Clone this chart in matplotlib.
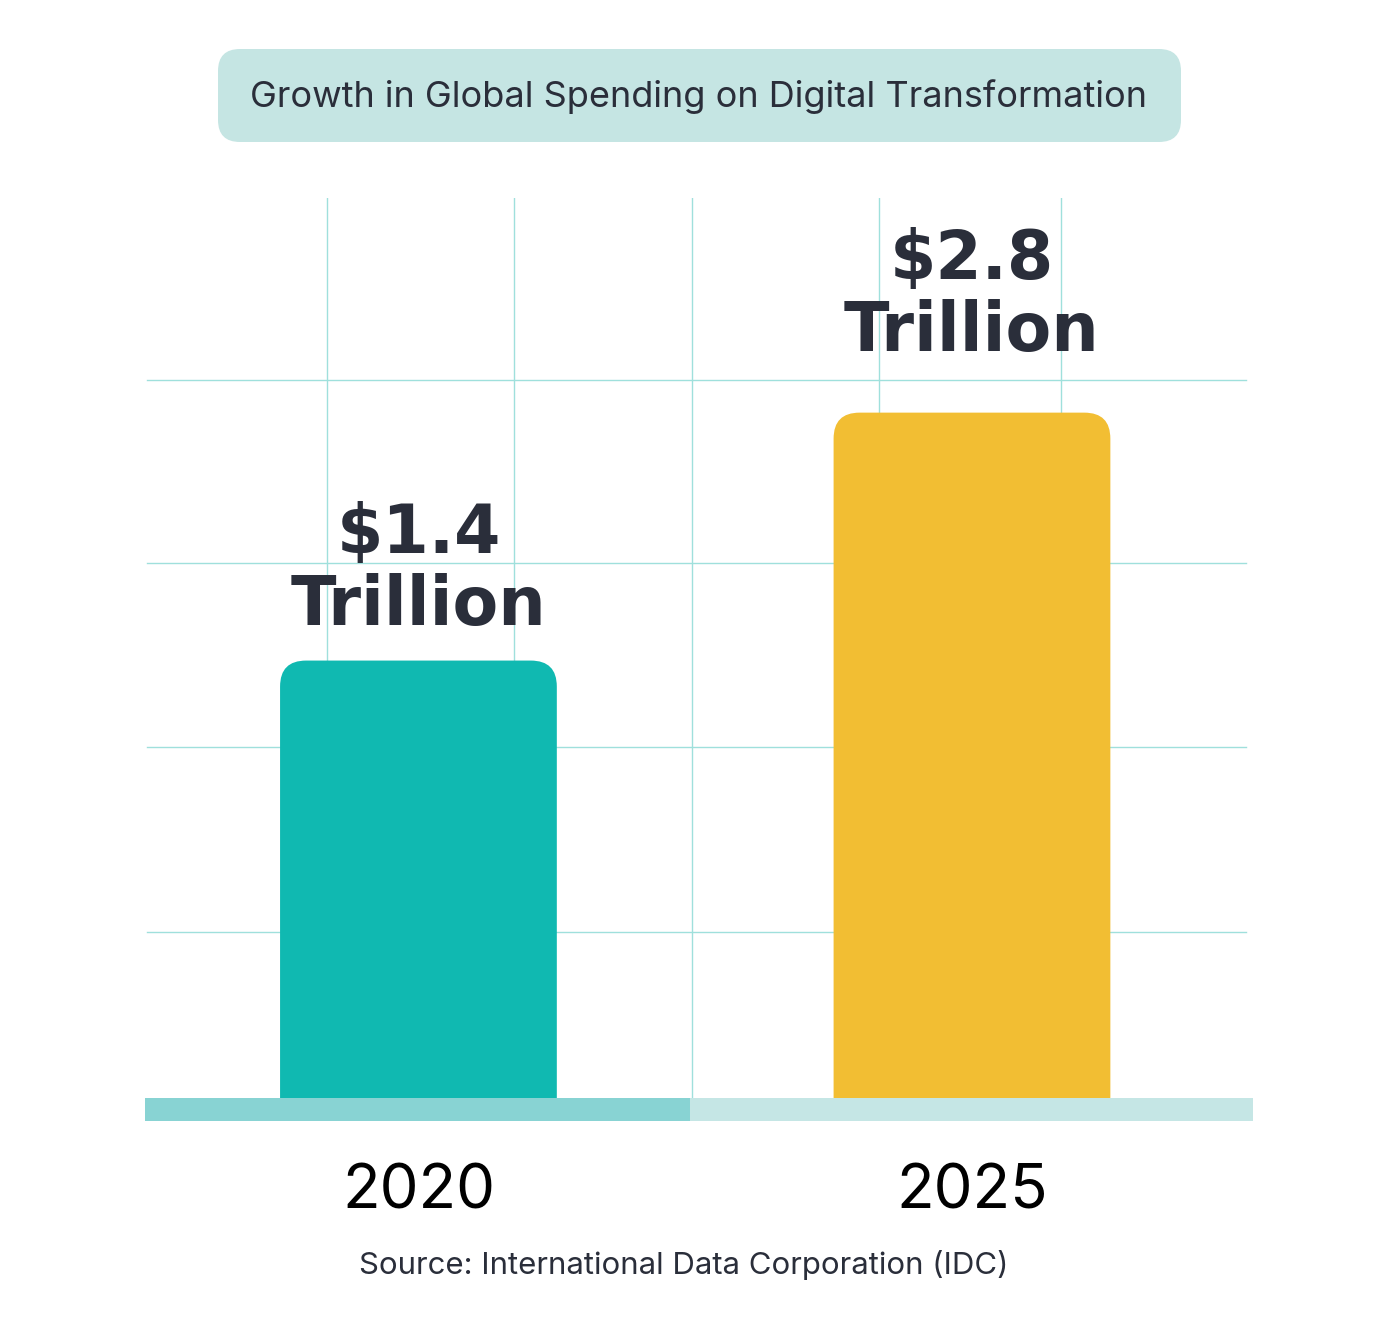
import matplotlib
matplotlib.use('Agg')
import matplotlib.pyplot as plt
from matplotlib.patches import FancyBboxPatch

years = ['2020', '2025']
values = [1.4, 2.8]
value_labels = ['$1.4\nTrillion', '$2.8\nTrillion']
bar_colors = ['#10b9b1', '#f2be33']
title = 'Growth in Global Spending on Digital Transformation'
source = 'Source: International Data Corporation (IDC)'

W, H = 1400, 1320
DARK = '#2a2e3a'
GRID = '#9fe0dc'
label_pad = [0.12, 0.27]  # gap between bar top and its label, per bar

fig = plt.figure(figsize=(W / 100, H / 100), dpi=100)
fig.patch.set_facecolor('white')

# title pill + source (pixel coords)
tax = fig.add_axes([0, 0, 1, 1])
tax.set_xlim(0, W)
tax.set_ylim(H, 0)
tax.axis('off')
tax.add_patch(FancyBboxPatch((218, 49), 963, 93, boxstyle='round,pad=0,rounding_size=22',
                             facecolor='#c5e5e3', edgecolor='none'))
tax.text(699, 97, title, ha='center', va='center', fontsize=26, color=DARK, family='Inter')
tax.text(684, 1265, source, ha='center', va='center', fontsize=22.4, color=DARK, family='Inter')

# plot area: x 145..1253, y 198..1121 px
ax = fig.add_axes([145 / W, 1 - 1121 / H, 1108 / W, 923 / H])
ax.set_xlim(-0.494, 1.5077)
ymin, ymax = -1.2, 4.012
base = -1.07
ax.set_ylim(ymin, ymax)
ax.axis('off')

# grid
for gx in [-0.165, 0.172, 0.494, 0.832, 1.161]:
    ax.axvline(gx, ymin=0.025, ymax=1, color=GRID, lw=1, zorder=0)
for gy in [0.205, 0.405, 0.605, 0.803]:
    ax.axhline(ymin + gy * (ymax - ymin), xmin=0.002, xmax=0.994, color=GRID, lw=1, zorder=0)

# base band
ax.fill_between([-0.494, 0.4905], ymin, base, color='#88d3d3', lw=0, zorder=3)
ax.fill_between([0.4905, 1.5077], ymin, base, color='#c5e6e5', lw=0, zorder=3)

# bars with rounded tops
width = 0.5
aspect = 553.5 / 177.1
r = 26 / 553.5
for i, (v, c) in enumerate(zip(values, bar_colors)):
    bottom = base - r * aspect
    ax.add_patch(FancyBboxPatch((i - width / 2, bottom), width, v - bottom,
                                boxstyle=f'round,pad=0,rounding_size={r}',
                                mutation_aspect=aspect, facecolor=c, edgecolor='none', zorder=2))
    ax.text(i, v + label_pad[i], value_labels[i], ha='center', va='bottom', fontsize=48,
            fontweight='bold', color=DARK, linespacing=1.12, family='DejaVu Sans')
    ax.text(i, base - 0.37, years[i], ha='center', va='top', fontsize=44.5, color='black',
            family='Inter')

fig.savefig('out.png', dpi=100, facecolor='white')
